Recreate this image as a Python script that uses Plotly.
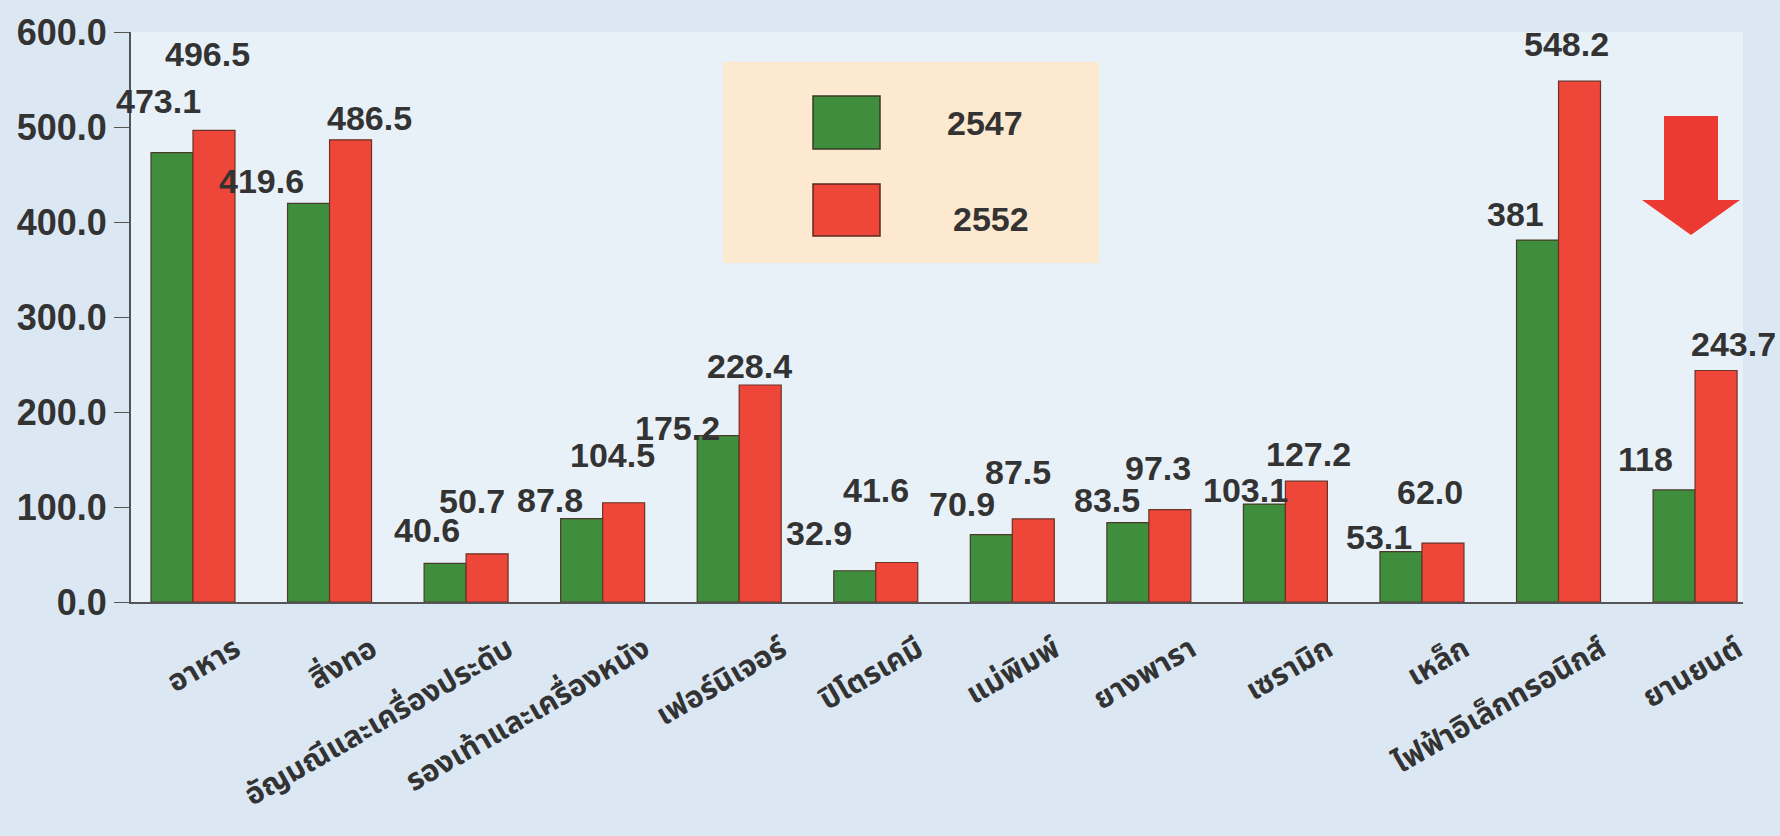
import plotly.graph_objects as go

categories = ["อาหาร", "สิ่งทอ", "อัญมณีและเครื่องประดับ", "รองเท้าและเครื่องหนัง",
              "เฟอร์นิเจอร์", "ปิโตรเคมี", "แม่พิมพ์", "ยางพารา", "เซรามิก",
              "เหล็ก", "ไฟฟ้าอิเล็กทรอนิกส์", "ยานยนต์"]
series_names = ["2547", "2552"]
values_2547 = [473.1, 419.6, 40.6, 87.8, 175.2, 32.9, 70.9, 83.5, 103.1, 53.1, 381, 118]
values_2552 = [496.5, 486.5, 50.7, 104.5, 228.4, 41.6, 87.5, 97.3, 127.2, 62.0, 548.2, 243.7]
labels_2547 = ["473.1", "419.6", "40.6", "87.8", "175.2", "32.9", "70.9", "83.5", "103.1", "53.1", "381", "118"]
labels_2552 = ["496.5", "486.5", "50.7", "104.5", "228.4", "41.6", "87.5", "97.3", "127.2", "62.0", "548.2", "243.7"]
y_ticks = [0, 100, 200, 300, 400, 500, 600]

# label nudges (pixels) relative to bar centre / bar top
G_DX = [-13, -47, -18, -32, -41, -36, -29, -21, -19, -22, -22, -29]
G_DY = [52, 22, 33, 19, 8, 38, 31, 23, 14, 15, 26, 31]
R_DX = [-6, 19, -15, -11, -11, -21, -15, -12, 2, -13, -13, 17]
R_DY = [76, 22, 53, 48, 19, 72, 47, 42, 27, 51, 37, 26]

GREEN = "#3f8e3d"
RED = "#ee4638"
TXT = "#333333"
NUMFONT = "Liberation Sans, Arial, sans-serif"
THAIFONT = "Noto Sans Thai, Loma, Garuda, Tlwg Typo, Noto Sans, sans-serif"

W, H = 1780, 836
L, R, T, B = 131, 37, 32, 234

fig = go.Figure()
fig.add_trace(go.Bar(x=categories, y=values_2547, name=series_names[0],
                     marker=dict(color=GREEN, line=dict(color="#4b3a2a", width=1.2))))
fig.add_trace(go.Bar(x=categories, y=values_2552, name=series_names[1],
                     marker=dict(color=RED, line=dict(color="#6a3326", width=1.2))))

half = 21
ann = []
for i, c in enumerate(categories):
    ann.append(dict(x=c, y=values_2547[i], xref="x", yref="y", text=labels_2547[i],
                    showarrow=False, xanchor="center", yanchor="middle",
                    xshift=-half + G_DX[i], yshift=G_DY[i],
                    font=dict(family=NUMFONT, size=34, color=TXT, weight="bold")))
    ann.append(dict(x=c, y=values_2552[i], xref="x", yref="y", text=labels_2552[i],
                    showarrow=False, xanchor="center", yanchor="middle",
                    xshift=half + R_DX[i], yshift=R_DY[i],
                    font=dict(family=NUMFONT, size=34, color=TXT, weight="bold")))

pw, ph = W - L - R, H - T - B
def px(x):
    return (x - L) / pw
def py(y):
    return (H - B - y) / ph

shapes = []
# legend box
shapes.append(dict(type="rect", xref="paper", yref="paper", layer="below",
                   x0=px(723), x1=px(1099), y0=py(263), y1=py(62),
                   fillcolor="#fce9cf", line=dict(width=0)))
shapes.append(dict(type="rect", xref="paper", yref="paper",
                   x0=px(813), x1=px(880), y0=py(149), y1=py(96),
                   fillcolor=GREEN, line=dict(color="#3a3a2a", width=1.5)))
shapes.append(dict(type="rect", xref="paper", yref="paper",
                   x0=px(813), x1=px(880), y0=py(236), y1=py(184),
                   fillcolor=RED, line=dict(color="#5a2a20", width=1.5)))
ann.append(dict(x=px(985), y=py(123), xref="paper", yref="paper", text=series_names[0],
                showarrow=False, xanchor="center", yanchor="middle",
                font=dict(family=NUMFONT, size=34, color=TXT, weight="bold")))
ann.append(dict(x=px(991), y=py(219), xref="paper", yref="paper", text=series_names[1],
                showarrow=False, xanchor="center", yanchor="middle",
                font=dict(family=NUMFONT, size=34, color=TXT, weight="bold")))

# red arrow decoration
pts = [(1664, 116), (1718, 116), (1718, 200), (1740, 200), (1691, 235), (1642, 200), (1664, 200)]
path = "M " + " L ".join(f"{px(a):.5f},{py(b):.5f}" for a, b in pts) + " Z"
shapes.append(dict(type="path", xref="paper", yref="paper", path=path,
                   fillcolor="#ec3a32", line=dict(width=0)))

fig.update_layout(
    width=W, height=H,
    margin=dict(l=L, r=R, t=T, b=B, pad=0, autoexpand=False),
    paper_bgcolor="#dbe8f4",
    plot_bgcolor="#e9f1f8",
    barmode="group", bargap=0.385, bargroupgap=0,
    showlegend=False,
    annotations=ann,
    shapes=shapes,
    xaxis=dict(range=[-0.454, 11.351], showline=True, linecolor="#555555", linewidth=2,
               ticks="", tickangle=-30, showgrid=False, automargin=False,
               ticklabelshift=42, ticklabelstandoff=16,
               tickfont=dict(family=THAIFONT, size=30, color=TXT, weight="bold")),
    yaxis=dict(range=[0, 600], tickvals=y_ticks, tickformat=".1f", automargin=False,
               showline=True, linecolor="#555555", linewidth=2,
               ticks="outside", ticklen=15, tickcolor="#555555", showgrid=False, zeroline=False,
               tickfont=dict(family=NUMFONT, size=36, color=TXT, weight="bold")),
)

fig.write_html("out.html", config={"displayModeBar": False},
               post_script="document.body.style.margin='0';")
